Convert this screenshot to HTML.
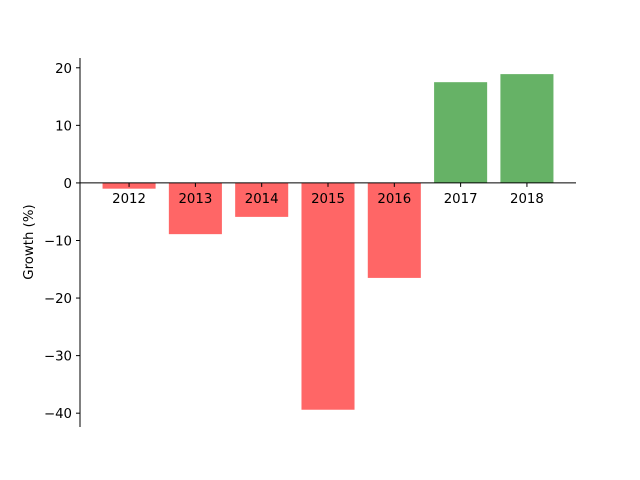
<!DOCTYPE html>
<html><head><meta charset="utf-8"><style>
body{margin:0;background:#fff}
svg{display:block;font-family:"DejaVu Sans","Liberation Sans",sans-serif}
</style></head><body>
<svg id="chart" width="640" height="480"></svg>
<script>
const categories=["2012","2013","2014","2015","2016","2017","2018"];
const growthValues=[-1.0,-8.9,-5.9,-39.4,-16.5,17.5,18.9];
const yTicks=[20,10,0,-10,-20,-30,-40];
const NS="http://www.w3.org/2000/svg";
const svg=document.getElementById("chart");
const plotL=80,plotR=576,plotT=58,plotB=427;
const yMin=-42.4,yMax=21.7,xMin=-0.74,xMax=6.74;
function y(v){return plotB-(v-yMin)/(yMax-yMin)*(plotB-plotT);}
function x(i){return plotL+(i-xMin)/(xMax-xMin)*(plotR-plotL);}
function mk(t,a,txt){const e=document.createElementNS(NS,t);for(const k in a)e.setAttribute(k,a[k]);if(txt!==undefined)e.textContent=txt;svg.appendChild(e);return e;}
const bw=(x(0.4)-x(-0.4));
growthValues.forEach((v,i)=>{
 const r=mk("rect",{x:x(i)-bw/2,y:Math.min(y(v),y(0)),width:bw,height:Math.abs(y(v)-y(0)),fill:v<0?"#ff6666":"#66b266"});
 
 
});
const ya=mk("line",{x1:plotL,x2:plotL,y1:plotT,y2:plotB,stroke:"#000","stroke-width":1});


const xa=mk("line",{x1:plotL,x2:plotR,y1:y(0),y2:y(0),stroke:"#000","stroke-width":1});


yTicks.forEach(t=>{
 mk("line",{x1:plotL-4,x2:plotL,y1:y(t),y2:y(t),stroke:"#000"});
 const l=mk("text",{x:plotL-8,y:y(t)+5,"text-anchor":"end","font-size":13.3},t<0?"\u2212"+Math.abs(t):String(t));
 
 
});
categories.forEach((c,i)=>{
 mk("line",{x1:x(i),x2:x(i),y1:y(0),y2:y(0)+4,stroke:"#000"});
 const l=mk("text",{x:x(i),y:y(0)+20,"text-anchor":"middle","font-size":13.3},c);
 
 
});
const yt=mk("text",{x:0,y:0,"text-anchor":"middle","font-size":13.3,transform:"translate(33,242) rotate(-90)"},"Growth (%)");


</script>
</body></html>
